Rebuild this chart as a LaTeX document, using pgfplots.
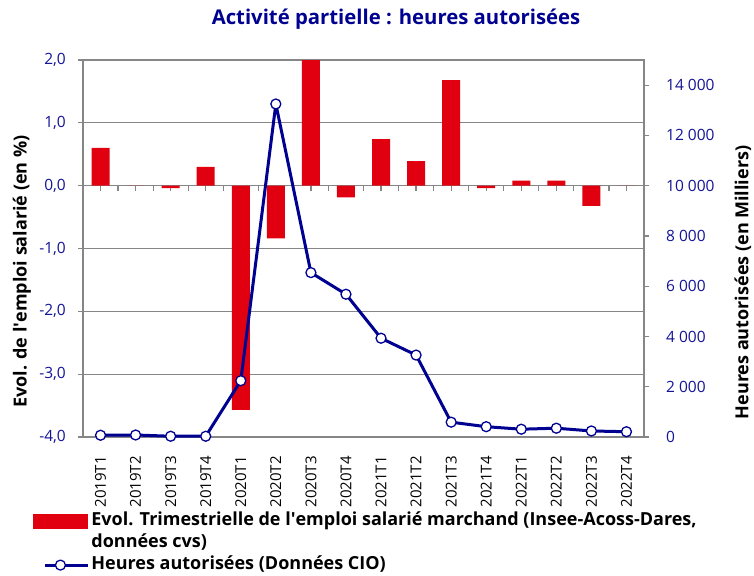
\documentclass[border=0pt]{standalone}
\usepackage{pgfplots}
\pgfplotsset{compat=1.18}
\usepackage{pgfplotstable}
\usepackage{fontspec}
\setmainfont{Open Sans}
\definecolor{bleuF}{RGB}{0,0,145}
\definecolor{rougeM}{RGB}{225,0,15}
\definecolor{gridg}{RGB}{134,134,134}
\definecolor{tickb}{RGB}{20,20,150}

\pgfplotstableread{
x bar line
0 0.60 70
1 0.00 80
2 -0.04 30
3 0.30 30
4 -3.57 2240
5 -0.84 13250
6 2.30 6540
7 -0.185 5680
8 0.74 3930
9 0.39 3260
10 1.68 590
11 -0.04 410
12 0.08 310
13 0.08 350
14 -0.32 240
15 0.00 210
}\datatable

\pgfplotsset{base/.style={scale only axis, width=561bp, height=377bp,
  xmin=-0.5, xmax=15.5, clip=true,
  tick align=outside, major tick length=5bp,
  every tick/.style={gridg, line width=1.2bp},
  axis line style={gridg, line width=1.2bp}}}

\begin{document}
\begin{tikzpicture}
\path[use as bounding box] (-83bp,-139bp) rectangle (671bp,437bp);
\begin{axis}[base,
  ymin=-4, ymax=2, ytick={-4,-3,...,2},
  ymajorgrids, grid style={gridg, line width=1.2bp},
  ytick pos=left, xtick pos=bottom,
  xtick={0,...,15},
  xticklabels={2019T1,2019T2,2019T3,2019T4,2020T1,2020T2,2020T3,2020T4,2021T1,2021T2,2021T3,2021T4,2022T1,2022T2,2022T3,2022T4},
  x tick style={draw=none},
  xticklabel style={rotate=90, anchor=east, inner sep=0pt, black, font=\fontsize{15bp}{17bp}\selectfont},
  xticklabel shift=14bp,
  yticklabel style={tickb, font=\fontsize{15.5bp}{17bp}\selectfont, inner sep=0pt, xshift=-12bp,
    /pgf/number format/.cd, fixed, fixed zerofill, precision=1, use comma, assume math mode=true},
  ylabel={Evol. de l\textquotesingle emploi salarié (en \%)},
  ylabel style={at={(axis description cs:-0.1087,0.439)}, anchor=center, black, font=\bfseries\fontsize{18bp}{20bp}\selectfont},
  title={Activité partielle : heures autorisées},
  title style={at={(axis description cs:0.558,1.0777)}, anchor=base, bleuF, inner sep=0pt, font=\bfseries\fontsize{20.3bp}{22bp}\selectfont},
]
\pgfplotsinvokeforeach{-0.5,0,...,15.5}{\draw[gridg, line width=1.2bp] (axis cs:#1,0) -- ++(0bp,-5bp);}
\addplot[ybar, bar width=18bp, fill=rougeM, draw=none] table[x=x,y=bar]{\datatable};
\end{axis}
\begin{axis}[base,
  axis y line*=right, axis x line=none,
  ymin=0, ymax=15000, ytick={0,2000,...,14000},
  scaled y ticks=false,
  yticklabel style={tickb, font=\fontsize{15.5bp}{17bp}\selectfont, inner sep=0pt, xshift=17bp,
    /pgf/number format/.cd, fixed, 1000 sep={\ }, assume math mode=true},
  ylabel={Heures autorisées (en Milliers)},
  ylabel style={at={(axis description cs:1.1765,0.41)}, anchor=center, black, font=\bfseries\fontsize{18bp}{20bp}\selectfont},
  legend style={at={(-0.0891,-0.2)}, anchor=north west, draw=none, fill=none,
    font=\bfseries\fontsize{18bp}{20bp}\selectfont, row sep=5bp, inner sep=0pt,
    nodes={inner ysep=0pt, inner xsep=1.5bp, text height=13bp, text depth=4bp}},
  legend cell align=left,
]
\addlegendimage{legend image code/.code={\fill[rougeM] (0bp,-7bp) rectangle (54bp,7bp);}}
\addlegendentry{Evol. Trimestrielle de l\textquotesingle emploi salarié marchand (Insee-Acoss-Dares,}
\addlegendimage{empty legend}
\addlegendentry{données cvs)}
\addplot[bleuF, line width=3bp, line join=round, mark=*, mark size=5bp,
  mark options={fill=white, draw=bleuF, line width=1.3bp},
  legend image code/.code={\path[draw=none, fill=none] (0bp,-7bp) rectangle (54bp,7bp);
    \draw[bleuF, line width=3bp] (12bp,0bp) -- (55bp,0bp);
    \draw[bleuF, line width=1.3bp, fill=white] (27bp,0bp) circle (5bp);}]
  table[x=x,y=line]{\datatable};
\addlegendentry{Heures autorisées (Données CIO)}
\end{axis}
\end{tikzpicture}
\end{document}
